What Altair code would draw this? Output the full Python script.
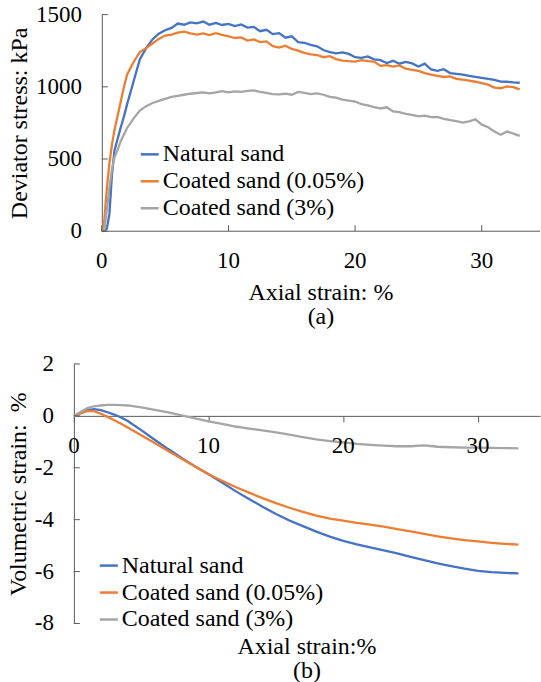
import altair as alt
import pandas as pd

FONT = "Liberation Serif"
SERIES = ["Natural sand", "Coated sand (0.05%)", "Coated sand (3%)"]
COLORS = ["#4472C4", "#ED7D31", "#A5A5A5"]
AXIS_COLOR = "#595959"

# ---------- panel (a): deviator stress ----------
strain_a = [0, 0.2, 0.4, 0.6, 0.8, 1.0, 1.25, 1.5, 1.75, 2.0, 2.5, 3.0,
            3.5, 4.0, 4.5, 5.0, 5.5, 6.0, 6.5, 7.0, 7.5, 8.0,
            8.5, 9.0, 9.5, 10.0, 10.5, 11.0, 11.5, 12.0, 12.5, 13.0,
            13.5, 14.0, 14.5, 15.0, 15.5, 16.0, 16.5, 17.0, 17.5, 18.0,
            18.5, 19.0, 19.5, 20.0, 20.5, 21.0, 21.5, 22.0, 22.5, 23.0,
            23.5, 24.0, 24.5, 25.0, 25.5, 26.0, 26.5, 27.0, 27.5, 28.0,
            28.5, 29.0, 29.5, 30.0, 30.5, 31.0, 31.5, 32.0, 32.5, 33.0]
q_natural = [0, 4, 18, 120, 390, 560, 640, 720, 795, 880, 1035, 1190,
             1268, 1328, 1368, 1392, 1408, 1438, 1430, 1446, 1440, 1452,
             1430, 1442, 1428, 1436, 1420, 1432, 1410, 1415, 1385, 1395,
             1365, 1372, 1340, 1350, 1310, 1305, 1290, 1280, 1255, 1240,
             1232, 1238, 1228, 1205, 1200, 1210, 1190, 1185, 1165, 1180,
             1160, 1172, 1162, 1140, 1160, 1120, 1110, 1122, 1095, 1090,
             1085, 1075, 1068, 1062, 1055, 1048, 1036, 1035, 1030, 1028]
q_coated005 = [0, 80, 300, 470, 600, 700, 800, 900, 1000, 1085, 1170, 1240,
               1268, 1300, 1332, 1355, 1362, 1375, 1382, 1370, 1362, 1370,
               1358, 1372, 1360, 1350, 1338, 1342, 1320, 1328, 1310, 1315,
               1282, 1272, 1285, 1262, 1250, 1235, 1225, 1220, 1205, 1212,
               1192, 1182, 1178, 1175, 1185, 1178, 1175, 1145, 1150, 1140,
               1148, 1125, 1118, 1110, 1095, 1085, 1075, 1068, 1072, 1055,
               1050, 1042, 1035, 1025, 1015, 995, 990, 1002, 998, 982]
q_coated3 = [0, 10, 150, 300, 430, 510, 565, 625, 670, 715, 780, 835,
             866, 888, 902, 916, 930, 938, 945, 952, 957, 962,
             955, 962, 970, 962, 968, 965, 972, 975, 965, 958,
             950, 948, 952, 945, 965, 958, 950, 955, 945, 930,
             925, 912, 905, 898, 880, 872, 860, 850, 858, 830,
             825, 812, 805, 795, 800, 790, 792, 778, 770, 762,
             752, 760, 775, 738, 720, 690, 668, 690, 676, 660]

# ---------- panel (b): volumetric strain ----------
strain_b = [0, 0.5, 1.0, 1.5, 2.0, 2.5, 3.0, 3.5, 4.0,
            5, 6, 7, 8, 9, 10, 11, 12, 13, 14, 15, 16, 17, 18, 19,
            20, 21, 22, 23, 24, 25, 26, 27, 28, 29, 30, 31, 32, 33]
ev_natural = [0, 0.10, 0.22, 0.26, 0.22, 0.14, 0.05, -0.06, -0.20,
              -0.55, -0.92, -1.28, -1.62, -1.95, -2.25, -2.57, -2.90, -3.20, -3.50,
              -3.78, -4.03, -4.25, -4.46, -4.65, -4.82, -4.95, -5.07, -5.18, -5.30,
              -5.43, -5.56, -5.68, -5.79, -5.89, -5.97, -6.02, -6.05, -6.07]
ev_coated005 = [0, 0.09, 0.19, 0.18, 0.08, -0.04, -0.17, -0.30, -0.45,
                -0.75, -1.05, -1.35, -1.65, -1.95, -2.25, -2.50, -2.74, -2.96, -3.17,
                -3.36, -3.54, -3.70, -3.84, -3.96, -4.04, -4.12, -4.19, -4.27, -4.36,
                -4.45, -4.55, -4.64, -4.72, -4.79, -4.84, -4.89, -4.93, -4.96]
ev_coated3 = [0, 0.15, 0.30, 0.37, 0.40, 0.42, 0.42, 0.41, 0.40,
              0.33, 0.23, 0.13, 0.02, -0.10, -0.21, -0.31, -0.41, -0.49, -0.56,
              -0.64, -0.72, -0.82, -0.91, -0.97, -1.02, -1.08, -1.12, -1.15, -1.17,
              -1.17, -1.14, -1.19, -1.21, -1.22, -1.22, -1.23, -1.24, -1.25]

# tick positions and their labels
x_ticks = [0, 10, 20, 30]
x_tick_labels = ["0", "10", "20", "30"]
y_ticks_a = [0, 500, 1000, 1500]
y_tick_labels_a = ["0", "500", "1000", "1500"]
y_ticks_b = [-8, -6, -4, -2, 0, 2]
y_tick_labels_b = ["-8", "-6", "-4", "-2", "0", "2"]

X_MAX = 34.6
W, H1, H2 = 467, 217, 260          # both panels share the same plot width
SHIFT_A = 28                        # panel (a) y-axis sits 28 px right of panel (b)'s
X_MIN_A = -SHIFT_A * X_MAX / (W - SHIFT_A)
ZERO_B = H2 * 2 / 10                # pixel row of v = 0 in panel (b)


def long_df(xs, ys_list):
    rows = []
    for name, ys in zip(SERIES, ys_list):
        for x, y in zip(xs, ys):
            rows.append({"s": x, "v": y, "series": name})
    return pd.DataFrame(rows)


df_a = long_df(strain_a, [q_natural, q_coated005, q_coated3])
df_b = long_df(strain_b, [ev_natural, ev_coated005, ev_coated3])
xt_df = pd.DataFrame({"s": x_ticks, "lbl": x_tick_labels})
yt_df_a = pd.DataFrame({"v": y_ticks_a, "lbl": y_tick_labels_a})
yt_df_b = pd.DataFrame({"v": y_ticks_b, "lbl": y_tick_labels_b})


def legend(lx, ly):
    return alt.Legend(orient="none", legendX=lx, legendY=ly, title=None,
                      symbolType="stroke", symbolSize=324, symbolStrokeWidth=2.5,
                      labelFont=FONT, labelFontSize=24, labelColor="black",
                      labelOffset=1, rowPadding=3, padding=0, labelLimit=400)


def tick_text(df, **kw):
    return alt.Chart(df).mark_text(font=FONT, fontSize=23, color="black", **kw)


color_scale = alt.Scale(domain=SERIES, range=COLORS)

# ----- chart (a) -----
sx_a = alt.Scale(domain=[X_MIN_A, X_MAX], nice=False, zero=False)
sy_a = alt.Scale(domain=[0, 1500], nice=False)
xa = alt.X("s:Q", scale=sx_a,
           axis=alt.Axis(values=x_ticks, tickSize=0, domain=False, labels=False, title=None))
ya = alt.Y("v:Q", scale=sy_a,
           axis=alt.Axis(values=y_ticks_a, tickSize=0, labels=False, offset=-SHIFT_A,
                         title="Deviator stress: kPa", titleX=-75, titleY=H1 / 2,
                         titleAngle=270, titleAlign="center", titleBaseline="alphabetic"))
lines_a = alt.Chart(df_a).mark_line(strokeWidth=2.3).encode(
    x=xa, y=ya,
    color=alt.Color("series:N", scale=color_scale, sort=SERIES, legend=legend(64, 128)),
)
xline_a = alt.Chart(pd.DataFrame({"s0": [0], "s1": [X_MAX], "v": [0]})).mark_rule(
    color=AXIS_COLOR, strokeWidth=1).encode(x="s0:Q", x2="s1:Q", y="v:Q")
yt_a = alt.Chart(yt_df_a).mark_rule(color=AXIS_COLOR, strokeWidth=1).encode(
    y="v:Q", x=alt.value(SHIFT_A), x2=alt.value(SHIFT_A + 6))
xt_a = alt.Chart(xt_df).mark_rule(color=AXIS_COLOR, strokeWidth=1).encode(
    x="s:Q", y=alt.value(H1 - 6), y2=alt.value(H1))
ylab_a = tick_text(yt_df_a, align="right", baseline="middle").encode(
    y="v:Q", x=alt.value(SHIFT_A - 20), text="lbl:N")
xlab_a = tick_text(xt_df, align="center", baseline="middle").encode(
    x="s:Q", y=alt.value(H1 + 30), text="lbl:N")
chart_a = alt.layer(lines_a, xline_a, yt_a, xt_a, ylab_a, xlab_a).properties(
    width=W, height=H1,
    title=alt.TitleParams("Axial strain: %", subtitle="(a)", orient="bottom", anchor="middle",
                          frame="group", font=FONT, fontSize=24, fontWeight="normal",
                          color="black", subtitleFont=FONT, subtitleFontSize=24,
                          subtitleColor="black", offset=8, subtitlePadding=0, dx=SHIFT_A / 2))

# ----- chart (b) -----
sx_b = alt.Scale(domain=[0, X_MAX], nice=False)
sy_b = alt.Scale(domain=[-8, 2], nice=False)
xb = alt.X("s:Q", scale=sx_b,
           axis=alt.Axis(values=x_ticks, tickSize=6, tickColor=AXIS_COLOR,
                         offset=-(H2 - ZERO_B), labels=False, title=None))
yb = alt.Y("v:Q", scale=sy_b,
           axis=alt.Axis(values=y_ticks_b, tickSize=0, labels=False,
                         title="Volumetric strain:\u00a0 %", titleX=-48, titleY=H2 / 2,
                         titleAngle=270, titleAlign="center", titleBaseline="alphabetic"))
lines_b = alt.Chart(df_b).mark_line(strokeWidth=2.3).encode(
    x=xb, y=yb,
    color=alt.Color("series:N", scale=color_scale, sort=SERIES, legend=legend(23, 190)),
)
yt_b = alt.Chart(yt_df_b).mark_rule(color=AXIS_COLOR, strokeWidth=1).encode(
    y="v:Q", x=alt.value(0), x2=alt.value(6))
ylab_b = tick_text(yt_df_b, align="right", baseline="middle").encode(
    y="v:Q", x=alt.value(-20), text="lbl:N")
xlab_b = tick_text(xt_df, align="center", baseline="middle").encode(
    x="s:Q", y=alt.value(ZERO_B + 30), text="lbl:N")
chart_b = alt.layer(lines_b, yt_b, ylab_b, xlab_b).properties(
    width=W, height=H2,
    title=alt.TitleParams("Axial strain:%", subtitle="(b)", orient="bottom", anchor="middle",
                          frame="group", font=FONT, fontSize=24, fontWeight="normal",
                          color="black", subtitleFont=FONT, subtitleFontSize=24,
                          subtitleColor="black", offset=0, subtitlePadding=0))

chart = alt.vconcat(chart_a, chart_b, spacing=24).resolve_scale(
    color="independent").resolve_legend(color="independent").properties(
    padding={"left": 6, "top": 3, "right": 0, "bottom": 0},
    background="white",
).configure(font=FONT).configure_view(stroke=None).configure_axis(
    titleFont=FONT, titleColor="black", titleFontSize=24, titleFontWeight="normal",
    domainColor=AXIS_COLOR, grid=False,
)

chart.save("out.html", embed_options={"renderer": "svg", "actions": False})
